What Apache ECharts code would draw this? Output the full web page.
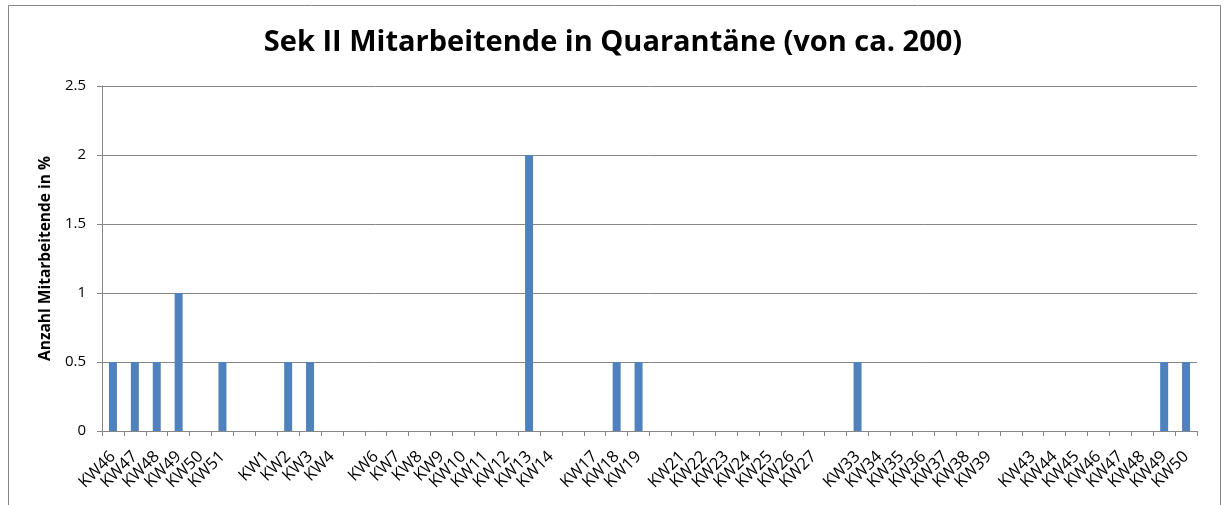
<!DOCTYPE html>
<html>
<head>
<meta charset="utf-8">
<script src="https://cdn.jsdelivr.net/npm/echarts@6/dist/echarts.min.js"></script>
<style>html,body{margin:0;padding:0;background:#fff}#c{width:1226px;height:505px}</style>
</head>
<body>
<div id="c"></div>
<script>
const categories = ["KW46","KW47","KW48","KW49","KW50","KW51","","KW1","KW2","KW3","KW4","","KW6","KW7","KW8","KW9","KW10","KW11","KW12","KW13","KW14","","KW17","KW18","KW19","","KW21","KW22","KW23","KW24","KW25","KW26","KW27","","KW33","KW34","KW35","KW36","KW37","KW38","KW39","","KW43","KW44","KW45","KW46","KW47","KW48","KW49","KW50"];
const values = [0.5,0.5,0.5,1,0,0.5,0,0,0.5,0.5,0,0,0,0,0,0,0,0,0,2,0,0,0,0.5,0.5,0,0,0,0,0,0,0,0,0,0.5,0,0,0,0,0,0,0,0,0,0,0,0,0,0.5,0.5];
const yTicks = [0,0.5,1,1.5,2,2.5];
const titleText = "Sek II Mitarbeitende in Quarantäne (von ca. 200)";
const yName = "Anzahl Mitarbeitende in %";

const chart = echarts.init(document.getElementById('c'), null, {renderer:'canvas'});
chart.setOption({
  animation:false,
  graphic:[{type:'rect',shape:{x:8.5,y:5.5,width:1212,height:520},style:{fill:'none',stroke:'#868686',lineWidth:1},silent:true}],
  title:{text:titleText,left:'center',top:23,textStyle:{fontFamily:'Open Sans',fontWeight:'bold',fontSize:29,color:'#000'}},
  grid:{left:102,right:29,top:86,bottom:74,containLabel:false},
  xAxis:{type:'category',data:categories,
    axisLine:{lineStyle:{color:'#868686',width:1}},
    axisTick:{show:true,alignWithLabel:false,interval:0,length:5,lineStyle:{color:'#868686'}},
    axisLabel:{interval:0,rotate:45,fontFamily:'Open Sans',fontSize:16.5,color:'#000',margin:23}},
  yAxis:{type:'value',min:yTicks[0],max:yTicks[yTicks.length-1],interval:0.5,
    name:yName,nameLocation:'middle',nameGap:43,nameRotate:90,
    nameTextStyle:{fontFamily:'Open Sans',fontWeight:'bold',fontSize:15.5,color:'#000'},
    axisLine:{show:true,lineStyle:{color:'#868686'}},
    axisTick:{show:true,length:5,lineStyle:{color:'#868686'}},
    splitLine:{lineStyle:{color:'#868686',width:1}},
    axisLabel:{fontFamily:'Open Sans',fontSize:15,color:'#000',margin:16}},
  series:[{type:'bar',data:values,barWidth:8,itemStyle:{color:'#4f81bd'}}]
});
</script>
</body>
</html>
